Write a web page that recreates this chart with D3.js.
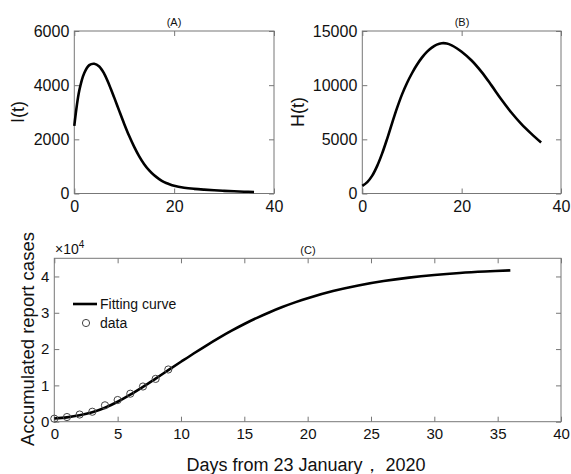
<!DOCTYPE html>
<html>
<head>
<meta charset="utf-8">
<script src="https://cdn.jsdelivr.net/npm/d3@7"></script>
<style>
  body { margin: 0; background: #fff; }
  text { font-family: "Liberation Sans", Arial, sans-serif; fill: #111; }
</style>
</head>
<body>
<script>
// panel (A) I(t)
var daysA = [0,1,2,3,4,5,6,7,8,9,10,11,12,13,14,15,16,17,18,19,20,22,24,26,28,30,32,34,36];
var infected = [2500,3800,4450,4740,4790,4690,4420,4010,3540,3050,2570,2120,1720,1370,1080,850,670,530,420,345,285,215,172,142,118,98,82,67,55];

// panel (B) H(t)
var daysB = [0,1,2,3,4,5,6,7,8,9,10,11,12,13,14,15,16,17,18,19,20,22,24,26,28,30,32,34,36];
var hospital = [700,1050,1650,2550,3700,5050,6500,7900,9150,10200,11100,11880,12540,13070,13470,13740,13870,13850,13680,13410,13080,12280,11230,9980,8680,7480,6430,5530,4700];

// panel (C) fitting curve + reported data
var daysC = [0,1,2,3,4,5,6,7,8,9,10,11,12,13,14,15,16,17,18,19,20,22,24,26,28,30,32,34,36];
var fitCases = [900,1200,1750,2600,3850,5500,7450,9600,11880,14200,16500,18780,20980,23080,25060,26900,28600,30160,31580,32860,34020,35980,37520,38730,39670,40400,40960,41370,41670];
var dataDays = [0,1,2,3,4,5,6,7,8,9];
var dataCases = [830,1287,1975,2744,4515,5974,7711,9692,11791,14380];

var ticksAx = [0,20,40], ticksAy = [0,2000,4000,6000];
var ticksBy = [0,5000,10000,15000];
var ticksCx = [0,5,10,15,20,25,30,35,40], ticksCy = [0,10000,20000,30000,40000];

var svg = d3.select("body").append("svg")
    .attr("width", 571)
    .attr("height", 474);

function panel(xs, ys, xt, yt, fmtY, fs) {
  var g = svg.append("g");
  var x0 = xs.range()[0], x1 = xs.range()[1];
  var y0 = ys.range()[0], y1 = ys.range()[1];

  g.append("g").attr("transform", "translate(0," + y0 + ")")
    .call(d3.axisBottom(xs).tickValues(xt).tickSizeInner(-5).tickSizeOuter(0).tickPadding(7));
  g.append("g").attr("transform", "translate(" + x0 + ",0)")
    .call(d3.axisLeft(ys).tickValues(yt).tickSizeInner(-5).tickSizeOuter(0).tickPadding(5).tickFormat(fmtY));
  g.append("g").attr("transform", "translate(0," + y1 + ")")
    .call(d3.axisTop(xs).tickValues(xt).tickSizeInner(-5).tickSizeOuter(0).tickFormat(""));
  g.append("g").attr("transform", "translate(" + x1 + ",0)")
    .call(d3.axisRight(ys).tickValues(yt).tickSizeInner(-5).tickSizeOuter(0).tickFormat(""));

  g.selectAll(".domain").remove();
  g.selectAll(".tick line").attr("stroke", "#777").attr("stroke-width", 1);
  g.selectAll(".tick text")
    .style("font-family", "'Liberation Sans', Arial, sans-serif")
    .style("font-size", fs + "px")
    .attr("fill", "#111");

  g.append("rect")
    .attr("x", x0).attr("y", y1)
    .attr("width", x1 - x0).attr("height", y0 - y1)
    .attr("fill", "none").attr("stroke", "#777").attr("stroke-width", 1);
  return g;
}

function curve(g, xs, ys, xv, yv, w) {
  var line = d3.line()
    .x(function(d) { return xs(d[0]); })
    .y(function(d) { return ys(d[1]); })
    .curve(d3.curveCatmullRom.alpha(0.5));
  g.append("path")
    .datum(xv.map(function(t, i) { return [t, yv[i]]; }))
    .attr("d", line)
    .attr("fill", "none")
    .attr("stroke", "#000")
    .attr("stroke-width", w);
}

// (A)
var xA = d3.scaleLinear().domain([0, 40]).range([74.3, 274]);
var yA = d3.scaleLinear().domain([0, 6000]).range([193.5, 31]);
var gA = panel(xA, yA, ticksAx, ticksAy, d3.format("d"), 16);
curve(gA, xA, yA, daysA, infected, 2.6);
gA.append("text").attr("x", 174).attr("y", 26).attr("text-anchor", "middle")
  .style("font-size", "11px").text("(A)");
gA.append("text").attr("transform", "translate(24,112) rotate(-90)")
  .attr("text-anchor", "middle").style("font-size", "18px").text("I(t)");

// (B)
var xB = d3.scaleLinear().domain([0, 40]).range([362.3, 561]);
var yB = d3.scaleLinear().domain([0, 15000]).range([193.5, 31]);
var gB = panel(xB, yB, ticksAx, ticksBy, d3.format("d"), 16);
curve(gB, xB, yB, daysB, hospital, 2.6);
gB.append("text").attr("x", 462).attr("y", 26).attr("text-anchor", "middle")
  .style("font-size", "11px").text("(B)");
gB.append("text").attr("transform", "translate(304,112) rotate(-90)")
  .attr("text-anchor", "middle").style("font-size", "18px").text("H(t)");

// (C)
var xC = d3.scaleLinear().domain([0, 40]).range([54.3, 561]);
var yC = d3.scaleLinear().domain([0, 45000]).range([421.7, 258.3]);
var gC = panel(xC, yC, ticksCx, ticksCy, function(d) { return d / 10000; }, 15);
curve(gC, xC, yC, daysC, fitCases, 2.6);
gC.selectAll("circle.pt")
  .data(dataDays)
  .enter().append("circle")
  .attr("class", "pt")
  .attr("cx", function(d) { return xC(d); })
  .attr("cy", function(d, i) { return yC(dataCases[i]); })
  .attr("r", 3.6)
  .attr("fill", "none")
  .attr("stroke", "#444")
  .attr("stroke-width", 1);

gC.append("text").attr("x", 308).attr("y", 254).attr("text-anchor", "middle")
  .style("font-size", "11px").text("(C)");
var mult = gC.append("text").attr("x", 55).attr("y", 254).style("font-size", "14px");
mult.append("tspan").text("\u00d710");
mult.append("tspan").attr("dy", -6).style("font-size", "10px").text("4");

gC.append("text").attr("transform", "translate(34,339) rotate(-90)")
  .attr("text-anchor", "middle").style("font-size", "18.5px").text("Accumulated report cases");
gC.append("text").attr("x", 306).attr("y", 471).attr("text-anchor", "middle")
  .style("font-size", "18px").text("Days from 23 January\uff0c 2020");

// legend
var leg = gC.append("g");
leg.append("line").attr("x1", 73).attr("x2", 97).attr("y1", 304).attr("y2", 304)
  .attr("stroke", "#000").attr("stroke-width", 2.6);
leg.append("text").attr("x", 100).attr("y", 309).style("font-size", "14px").text("Fitting curve");
leg.append("circle").attr("cx", 86).attr("cy", 323).attr("r", 3.6)
  .attr("fill", "none").attr("stroke", "#444").attr("stroke-width", 1);
leg.append("text").attr("x", 100).attr("y", 328).style("font-size", "14px").text("data");
</script>
</body>
</html>
